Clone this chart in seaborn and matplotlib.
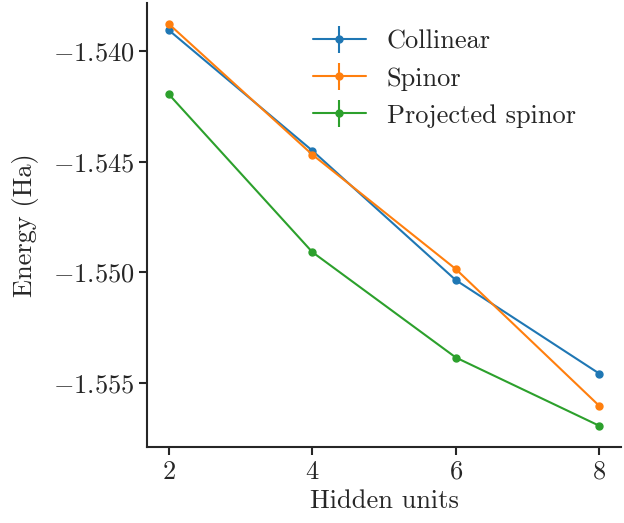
import matplotlib
matplotlib.use('Agg')
import matplotlib.pyplot as plt
import seaborn as sns

# Data
hidden_units = [2, 4, 6, 8]
collinear = [-1.53905, -1.54450, -1.55036, -1.55459]
spinor = [-1.53877, -1.54468, -1.54986, -1.55605]
projected = [-1.54195, -1.54909, -1.55386, -1.55695]
collinear_err = [0.00003, 0.00003, 0.00003, 0.00003]
spinor_err = [0.00003, 0.00003, 0.00003, 0.00003]
projected_err = [0.00003, 0.00003, 0.00003, 0.00003]

sns.set_style('ticks')
plt.rcParams['font.family'] = ['cmr10', 'DejaVu Serif']
plt.rcParams['mathtext.fontset'] = 'cm'
plt.rcParams['axes.formatter.use_mathtext'] = True
plt.rcParams['font.size'] = 19

palette = sns.color_palette('tab10')

fig, ax = plt.subplots(figsize=(6.24, 5.23), dpi=100)
ax.errorbar(hidden_units, collinear, yerr=collinear_err, marker='o', ms=5,
            color=palette[0], label='Collinear')
ax.errorbar(hidden_units, spinor, yerr=spinor_err, marker='o', ms=5,
            color=palette[1], label='Spinor')
ax.errorbar(hidden_units, projected, yerr=projected_err, marker='o', ms=5,
            color=palette[2], label='Projected spinor')

ax.set_xticks(hidden_units)
ax.set_yticks([-1.540, -1.545, -1.550, -1.555])
ax.yaxis.set_major_formatter(matplotlib.ticker.FormatStrFormatter('$%.3f$'))
ax.set_xlabel('Hidden units')
ax.set_ylabel('Energy (Ha)', labelpad=10)
ax.tick_params(width=1.5, length=6)
for s in ['left', 'bottom']:
    ax.spines[s].set_linewidth(1.5)
sns.despine(ax=ax)
ax.legend(frameon=False, loc='upper right', labelspacing=0.5,
          bbox_to_anchor=(0.955, 0.993))

fig.subplots_adjust(left=0.236, right=0.995, top=0.994, bottom=0.146)
fig.savefig('out.png', dpi=100)
